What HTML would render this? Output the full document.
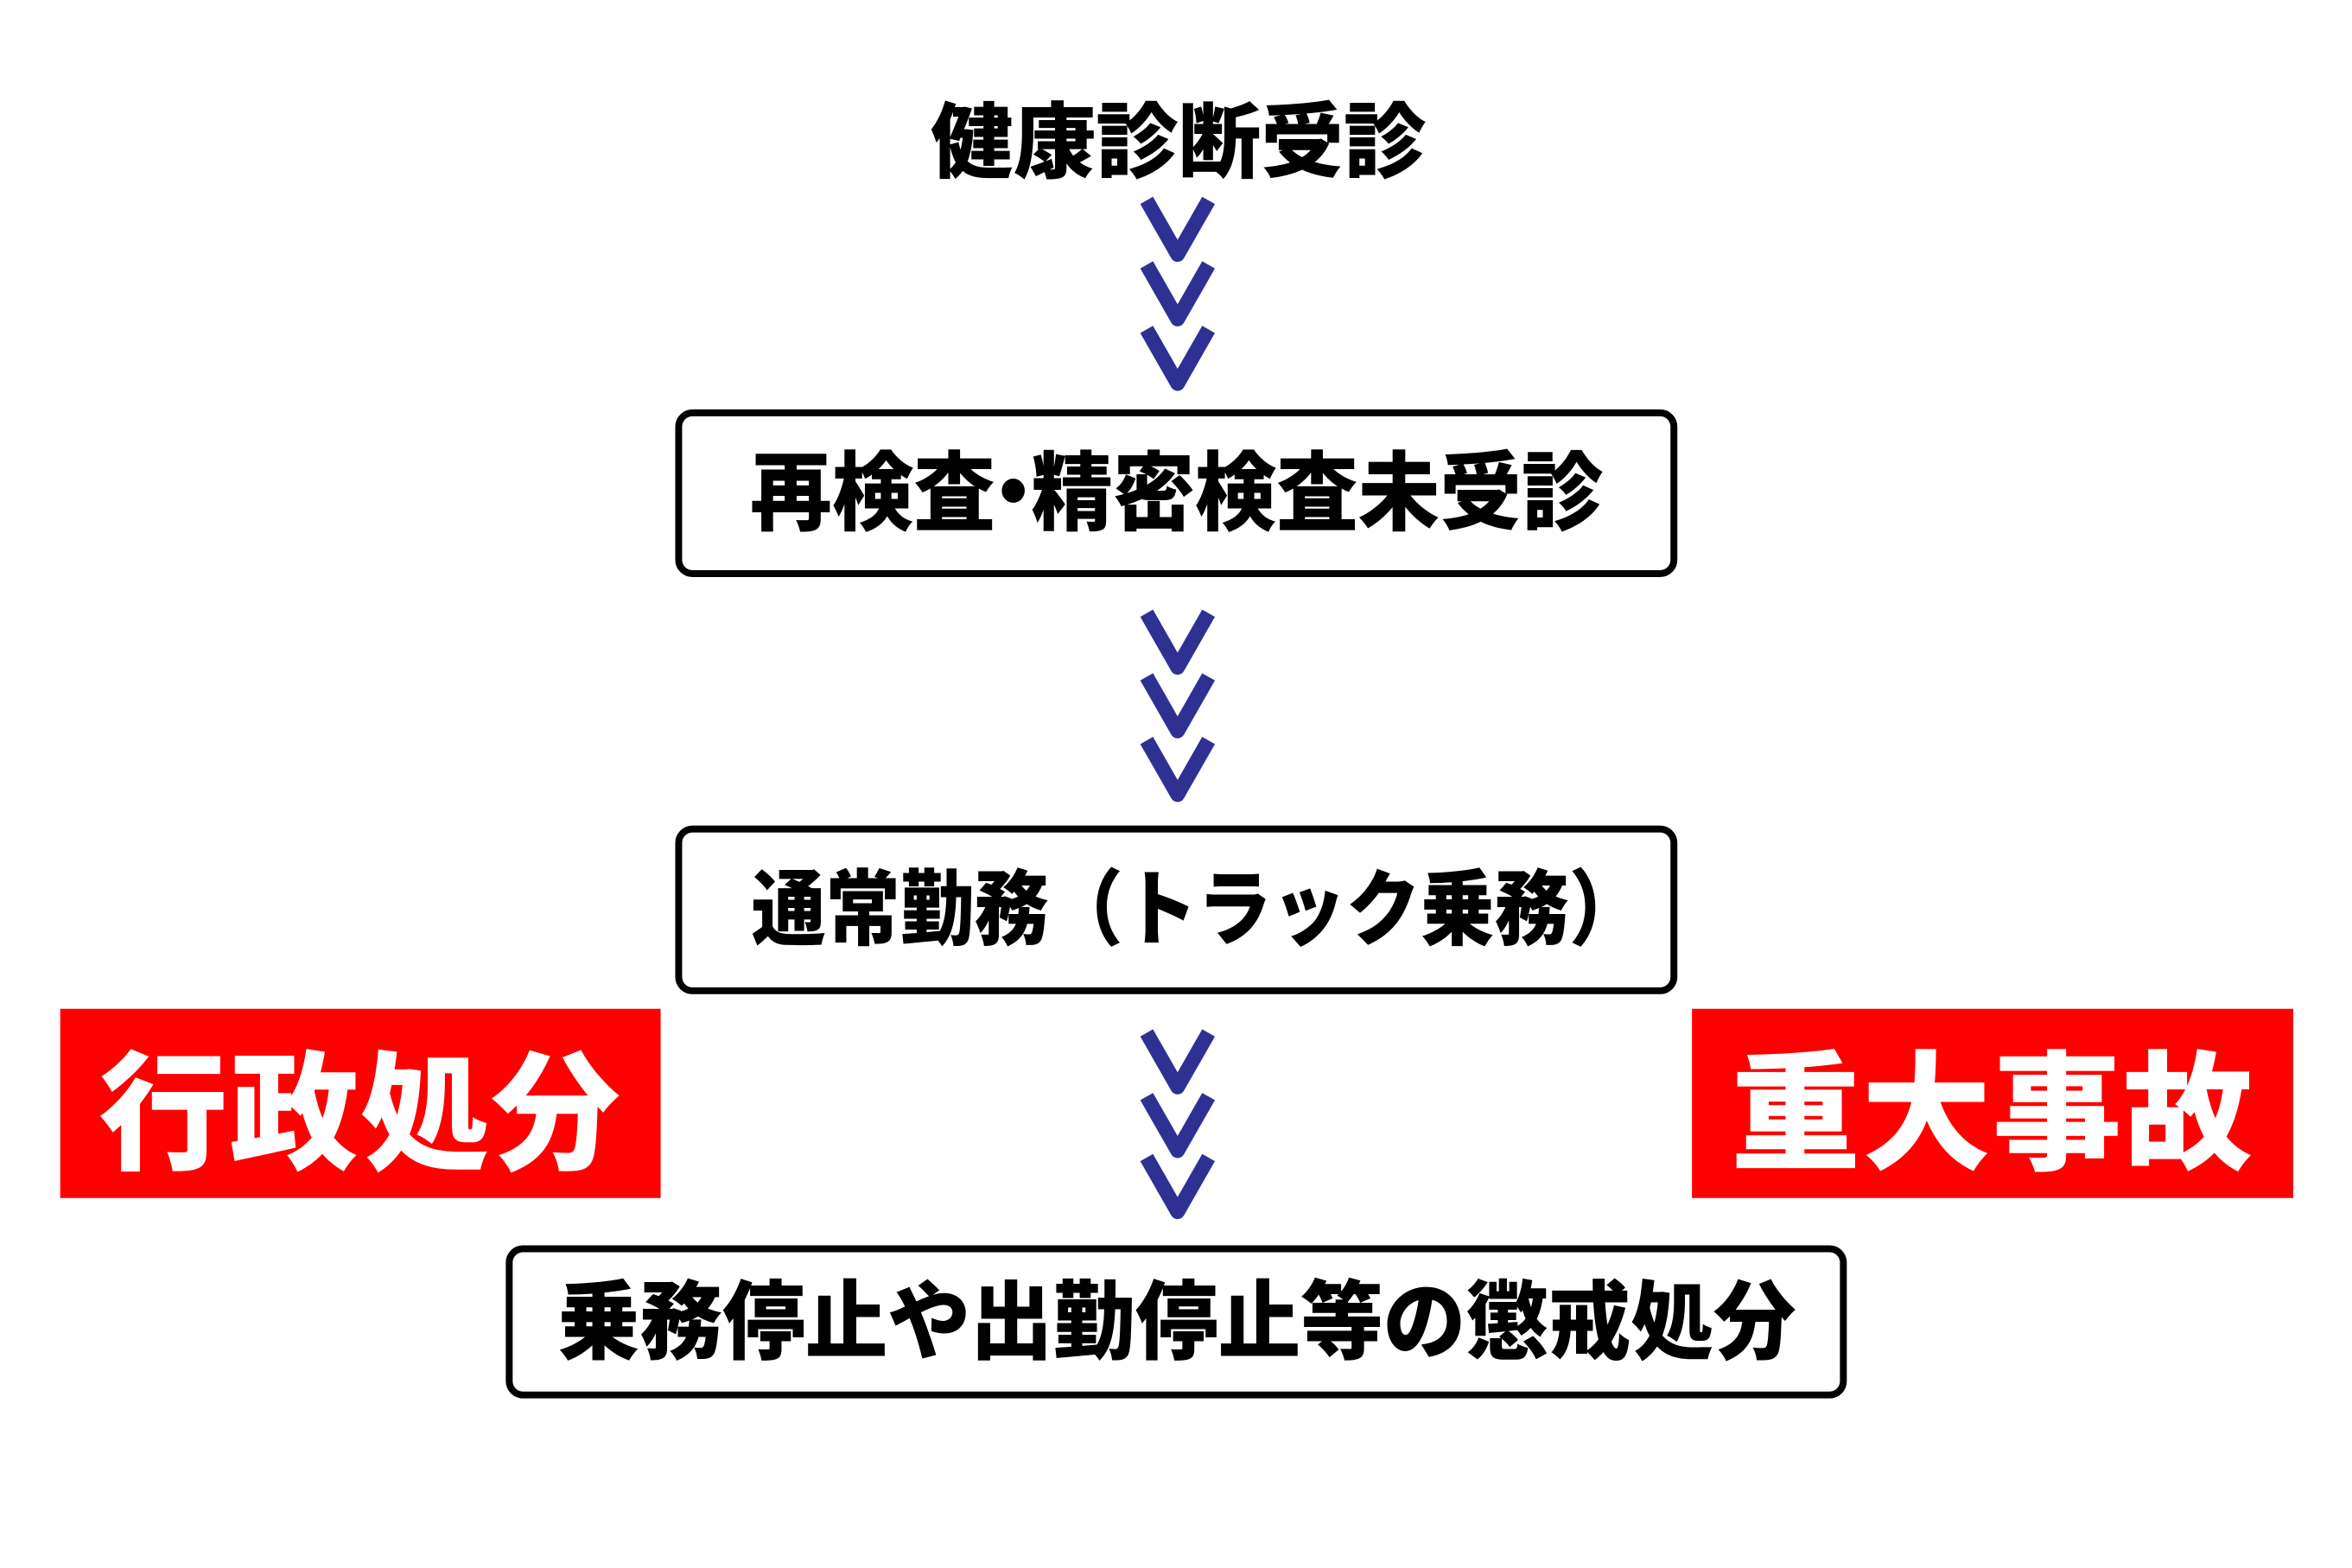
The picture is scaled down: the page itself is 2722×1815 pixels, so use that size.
<!DOCTYPE html>
<html><head><meta charset="utf-8"><style>
html,body{margin:0;padding:0;background:#fff;}
body{width:2722px;height:1815px;position:relative;overflow:hidden;font-family:"Liberation Sans","Noto Sans CJK JP",sans-serif;font-weight:900;}
#w{position:absolute;left:0;top:0;width:2722px;height:1815px;transform:scale(0.9955);transform-origin:0 0;}
.t{position:absolute;display:flex;align-items:center;justify-content:center;white-space:nowrap;color:#000;}
.t span{display:inline-block;}
.box{position:absolute;border:8px solid #000;border-radius:20px;box-sizing:border-box;background:#fff;}
.red{position:absolute;background:#ff0000;color:#fff;display:flex;align-items:center;justify-content:center;font-size:150px;letter-spacing:2px;}
</style></head><body><div id="w">
<div class="t" style="left:870px;top:102px;width:1000px;height:110px;font-size:96px;">健康診断受診</div>

<div class="box" style="left:785px;top:476px;width:1165px;height:195px;"></div>
<div class="t" style="left:785px;top:467px;width:1165px;height:195px;font-size:100px;"><span style="transform:scaleX(0.95)">再検査<span style="margin:0 -28px">・</span>精密検査未受診</span></div>

<div class="box" style="left:785px;top:960px;width:1165px;height:196px;"></div>
<div class="t" style="left:809px;top:951px;width:1165px;height:196px;font-size:96px;"><span style="transform:scaleX(0.9)">通常勤務（トラック乗務）</span></div>

<div class="box" style="left:588px;top:1448px;width:1559px;height:178px;"></div>
<div class="t" style="left:588px;top:1439px;width:1559px;height:178px;font-size:100px;"><span style="transform:scaleX(0.96)">乗務停止や出勤停止等の懲戒処分</span></div>

<div class="red" style="left:70px;top:1173px;width:698px;height:220px;">行政処分</div>
<div class="red" style="left:1967px;top:1173px;width:699px;height:220px;">重大事故</div>

<svg width="2722" height="1815" style="position:absolute;left:0;top:0" xmlns="http://www.w3.org/2000/svg">
<g fill="none" stroke="#2e3192" stroke-width="17" stroke-linejoin="round" stroke-linecap="butt">
<polyline points="1333,233 1369,296 1405,233"/>
<polyline points="1333,308 1369,371 1405,308"/>
<polyline points="1333,383 1369,446 1405,383"/>
<polyline points="1333,713 1369,776 1405,713"/>
<polyline points="1333,787 1369,850 1405,787"/>
<polyline points="1333,861 1369,924 1405,861"/>
<polyline points="1333,1201 1369,1264 1405,1201"/>
<polyline points="1333,1275 1369,1338 1405,1275"/>
<polyline points="1333,1346 1369,1409 1405,1346"/>
</g>
</svg>
</div></body></html>
